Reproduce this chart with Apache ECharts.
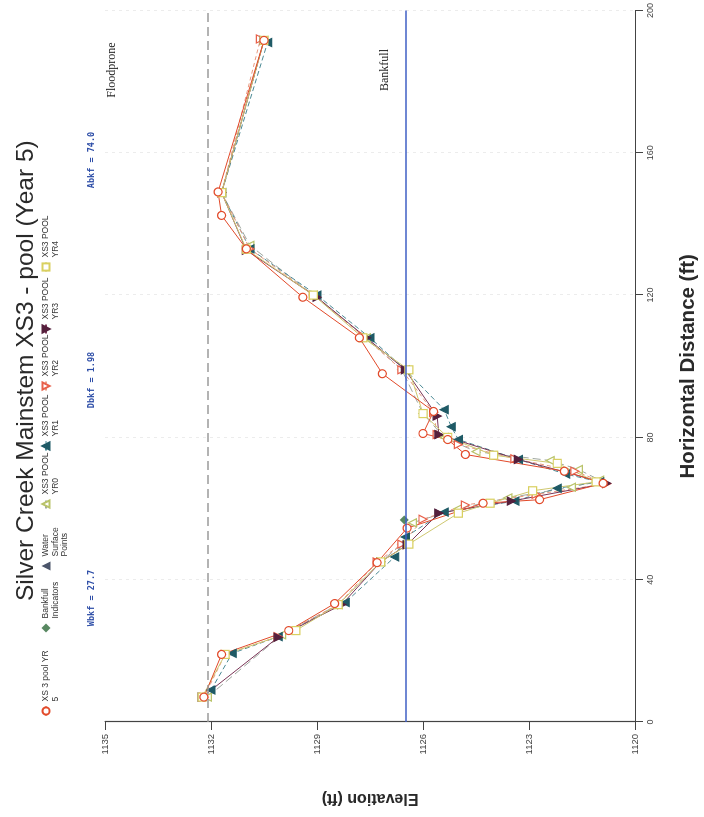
<!DOCTYPE html>
<html><head><meta charset="utf-8">
<script src="https://cdn.jsdelivr.net/npm/echarts@6/dist/echarts.min.js"></script>
<style>
html,body{margin:0;padding:0;width:704px;height:817px;overflow:hidden;background:#fff}
#wrap{position:absolute;left:0;top:0;width:817px;height:704px;transform-origin:0 0;transform:translateY(817px) rotate(-90deg);}
</style></head><body><div id="wrap"></div>
<script>
// ---- data ----
const distanceTicks = [0, 40, 80, 120, 160, 200];
const elevationTicks = [1120, 1123, 1126, 1129, 1132, 1135];
const bankfullElevation = 1126.5;
const floodproneElevation = 1132.1;
const statLabels = ['Wbkf = 27.7', 'Dbkf = 1.98', 'Abkf = 74.0'];

const yr5 = [[7,1132.2],[19,1131.7],[25.7,1129.8],[33.3,1128.5],[44.8,1127.3],[54.5,1126.45],[61.5,1124.3],[62.5,1122.7],[67.1,1120.9],[70.5,1122.0],[75.2,1124.8],[79.4,1125.3],[81.1,1126.0],[87.3,1125.7],[97.9,1127.15],[108,1127.8],[119.4,1129.4],[133,1131.0],[142.4,1131.7],[149,1131.8],[191.6,1130.5]];
const bankfullIndicators = [[56.8,1126.53]];
const waterSurface = [[58.7,1125.55],[80.8,1125.55]];
const yr0 = [[7,1132.1],[24.5,1130.0],[33,1128.4],[45,1127.2],[50,1126.6],[56,1126.3],[60,1125.0],[63,1123.6],[66,1121.8],[68,1121.0],[71,1121.6],[73.5,1122.4],[76,1124.5],[80,1125.4],[86.7,1126.0],[99,1126.6],[108,1127.6],[120,1129.1],[134,1130.9],[148.8,1131.7],[191.6,1130.5]];
const yr1 = [[9,1132.0],[19.3,1131.4],[24,1130.1],[33.6,1128.2],[46.4,1126.8],[52,1126.5],[59,1125.4],[62.1,1123.4],[65.7,1122.2],[67.5,1121.0],[69.7,1121.96],[73.8,1123.3],[79.4,1125.0],[83,1125.2],[87.8,1125.4],[99,1126.5],[108,1127.5],[120,1129.0],[133,1130.9],[148.8,1131.7],[191,1130.4]];
const yr2 = [[7,1132.2],[19,1131.6],[24,1130.1],[33,1128.4],[45,1127.3],[50,1126.6],[57,1126.0],[61,1124.8],[64,1122.8],[67,1120.8],[70.5,1121.7],[74,1123.4],[78,1125.0],[80.8,1125.6],[87,1125.7],[99,1126.6],[108.5,1127.7],[120,1129.1],[133,1130.9],[148.8,1131.7],[192,1130.6]];
const yr3 = [[7,1132.25],[23.8,1130.1],[33,1128.3],[45,1127.2],[49.8,1126.45],[58.7,1125.55],[62.1,1123.5],[67.1,1120.8],[73.8,1123.3],[80.8,1125.55],[86,1125.6],[99,1126.5],[108,1127.6],[119.4,1129.0],[132.6,1131.0],[148.8,1131.7],[191.6,1130.5]];
const yr4 = [[7,1132.25],[19,1131.6],[25.7,1129.6],[33,1128.4],[45,1127.2],[50,1126.4],[58.7,1125.0],[61.5,1124.1],[65,1122.9],[67.5,1121.1],[72.7,1122.2],[75,1124.0],[80,1125.3],[86.7,1126.0],[99,1126.4],[108,1127.7],[120,1129.1],[132.9,1131.0],[148.8,1131.7],[191.6,1130.5]];

const seriesNames = ['XS 3 pool YR 5','Bankfull Indicators','Water Surface Points','XS3 POOL YR0','XS3 POOL YR1','XS3 POOL YR2','XS3 POOL YR3','XS3 POOL YR4'];
const legendTexts = ['XS 3 pool YR\n5','Bankfull\nIndicators','Water\nSurface\nPoints','XS3 POOL\nYR0','XS3 POOL\nYR1','XS3 POOL\nYR2','XS3 POOL\nYR3','XS3 POOL\nYR4'];

// ---- chart ----
const chart = echarts.init(document.getElementById('wrap'), null, {renderer:'canvas', width:817, height:704});
const legendIconCenter = [105, 189, 251, 312, 370, 430, 487, 549];
const LH = 9.5;
const legends = seriesNames.map((n, i) => {
  const lines = legendTexts[i].split('\n').length;
  const padded = ' \n'.repeat(lines - 1) + legendTexts[i];
  return {
    data: [n], left: legendIconCenter[i] - 4.5, top: 46 - (2 * lines - 1) * LH / 2,
    padding: 0, orient: 'horizontal',
    itemWidth: 9, itemHeight: 9, itemGap: 0, selectedMode: false,
    formatter: () => padded,
    textStyle: {fontSize: 8.5, lineHeight: LH, color: '#333', fontFamily: 'Liberation Sans'}
  };
});

function line(name, data, color, symbol, opts) {
  return Object.assign({
    name, type: 'line', data, symbol, symbolSize: 8,
    lineStyle: {color, width: 1},
    itemStyle: {color, borderColor: color, borderWidth: 1.2},
    emphasis: {disabled: true}
  }, opts || {});
}

const series = [
  line('XS3 POOL YR0', yr0, '#b9c36a', 'triangle', {lineStyle:{color:'#a0a8a0', width:1, type:[8,4]}, itemStyle:{color:'#fff', borderColor:'#b9c36a', borderWidth:1.2}}),
  line('XS3 POOL YR1', yr1, '#1f5a66', 'triangle', {lineStyle:{color:'#4b8a95', width:1, type:[5,3]}}),
  line('XS3 POOL YR2', yr2, '#e8604a', 'triangle', {symbolRotate:180, lineStyle:{color:'#e99a80', width:1, type:[4,3]}, itemStyle:{color:'#fff', borderColor:'#e8604a', borderWidth:1.2}}),
  line('XS3 POOL YR3', yr3, '#55203d', 'triangle', {symbolRotate:180, lineStyle:{color:'#7a3556', width:1}}),
  line('XS3 POOL YR4', yr4, '#d9d060', 'rect', {lineStyle:{color:'#cfc870', width:1}, itemStyle:{color:'#fff', borderColor:'#d9d060', borderWidth:1.2}}),
  line('XS 3 pool YR 5', yr5, '#e24a2a', 'circle', {lineStyle:{color:'#e24a2a', width:1}, itemStyle:{color:'#fff', borderColor:'#e24a2a', borderWidth:1.2},
    markLine: {silent: true, symbol: 'none', label: {show: false},
      data: [
        {yAxis: bankfullElevation, lineStyle: {color: '#3f5fc4', width: 1.6, type: 'solid'}},
        {yAxis: floodproneElevation, lineStyle: {color: '#9a9a9a', width: 1.6, type: [9, 5]}}
      ]}}),
  {name:'Bankfull Indicators', type:'scatter', data: bankfullIndicators, symbol:'diamond', symbolSize:9, itemStyle:{color:'#2e6a3a'}},
  {name:'Water Surface Points', type:'scatter', data: waterSurface, symbol:'triangle', symbolRotate:180, symbolSize:9, itemStyle:{color:'#1e2a45'}}
];

const option = {
  backgroundColor: '#fff',
  animation: false,
  title: {text: 'Silver Creek Mainstem XS3 - pool (Year 5)', left: 211, top: 9,
    textStyle: {fontSize: 24.5, fontWeight: 'normal', color: '#2a2a2a', fontFamily: 'Liberation Sans'}},
  legend: legends,
  grid: {left: 95, right: 7, top: 105, bottom: 64, containLabel: false},
  xAxis: {type: 'value', min: 0, max: 200, interval: 40,
    name: 'Horizontal Distance (ft)', nameLocation: 'middle', nameGap: 43,
    nameTextStyle: {fontSize: 20.5, fontWeight: 'bold', color: '#2a2a2a', fontFamily: 'Liberation Sans'},
    axisLine: {show: true, lineStyle: {color: '#444', width: 1.2}},
    axisTick: {show: true, length: 8, lineStyle: {color: '#444'}},
    axisLabel: {fontSize: 9, color: '#444', margin: 11},
    splitLine: {show: true, lineStyle: {color: '#ececec', type: [3, 4]}}},
  yAxis: {type: 'value', min: 1120, max: 1135,
    name: 'Elevation (ft)', nameLocation: 'middle', nameGap: 68, nameRotate: 90,
    nameTextStyle: {fontSize: 16, fontWeight: 'bold', color: '#2a2a2a', fontFamily: 'Liberation Sans'},
    axisLine: {show: true, lineStyle: {color: '#444', width: 1.2}},
    axisTick: {show: true, length: 8, customValues: elevationTicks, lineStyle: {color: '#444'}},
    axisLabel: {fontSize: 9.5, color: '#444', margin: 12, customValues: elevationTicks, formatter: v => String(v)},
    splitLine: {show: false}},
  graphic: [
    {type:'text', x:219, y:92, style:{text: statLabels[0], textAlign:'center', textVerticalAlign:'middle', fill:'#2f4fa8', font:'bold 8.5px "DejaVu Sans Mono"'}},
    {type:'text', x:437, y:92, style:{text: statLabels[1], textAlign:'center', textVerticalAlign:'middle', fill:'#2f4fa8', font:'bold 8.5px "DejaVu Sans Mono"'}},
    {type:'text', x:657, y:92, style:{text: statLabels[2], textAlign:'center', textVerticalAlign:'middle', fill:'#2f4fa8', font:'bold 8.5px "DejaVu Sans Mono"'}},
    {type:'text', x:747, y:112, style:{text:'Floodprone', textAlign:'center', textVerticalAlign:'middle', fill:'#222', font:'12px "Liberation Serif"'}},
    {type:'text', x:747, y:385, style:{text:'Bankfull', textAlign:'center', textVerticalAlign:'middle', fill:'#222', font:'12px "Liberation Serif"'}}
  ],
  series
};
chart.setOption(option);
</script>
</body></html>
